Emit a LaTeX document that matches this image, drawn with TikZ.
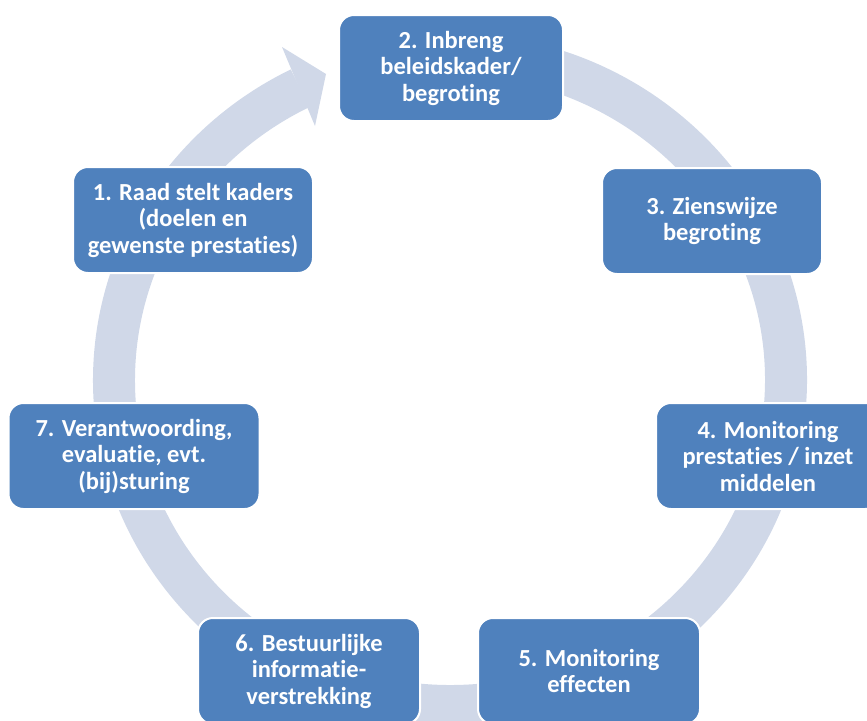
\documentclass[tikz,border=0pt]{standalone}
\usepackage{fontspec}
\setmainfont{Carlito}[Ligatures=NoCommon]
\usepackage{xcolor}
\usetikzlibrary{calc}

\definecolor{boxblue}{HTML}{4F81BD}
\definecolor{ringblue}{HTML}{D0D8E8}

\begin{document}
\begin{tikzpicture}[x=1pt,y=-1pt,thick,stage node/.style={rectangle,rounded corners=15pt,fill=boxblue,draw=white,line width=2pt,text=white,font=\bfseries\fontsize{24.5}{26.5}\selectfont,align=center,inner sep=0pt,minimum height=106pt}]

            \useasboundingbox (0,0) rectangle (867,720);
            \clip (0,0) rectangle (867,720);

            % the cycle ring, tail hidden under stage 2
            \coordinate (ctr) at (450,380);
            \coordinate (tail) at ($(ctr)+(275:336 and 326)$);
            \coordinate (tip) at (326,74);
            \coordinate (barbtop) at (282,47);
            \coordinate (barbbot) at (315,126);

            \draw[ringblue,line width=42pt] (tail) arc[start angle=275,end angle=603.5,x radius=336,y radius=326];
            \fill[ringblue] (barbtop) -- (tip) -- (barbbot) -- cycle;

            \node[stage node,minimum width=240pt] (1) at (193,220) {1. Raad stelt kaders\\(doelen en\\gewenste prestaties)};
            \node[stage node,minimum width=224pt] (2) at (451,68) {2. Inbreng\\beleidskader/\\begroting};
            \node[stage node,minimum width=220pt] (3) at (712,221) {3. Zienswijze\\begroting};
            \node[stage node,minimum width=224pt] (4) at (768,456) {4. Monitoring\\prestaties / inzet\\middelen};
            \node[stage node,minimum width=222pt] (5) at (589,671) {5. Monitoring\\effecten};
            \node[stage node,minimum width=222pt] (6) at (309,671) {6. Bestuurlijke\\informatie-\\verstrekking};
            \node[stage node,minimum width=251pt] (7) at (134,456) {7. Verantwoording,\\evaluatie, evt.\\(bij)sturing};

        \end{tikzpicture}
\end{document}
